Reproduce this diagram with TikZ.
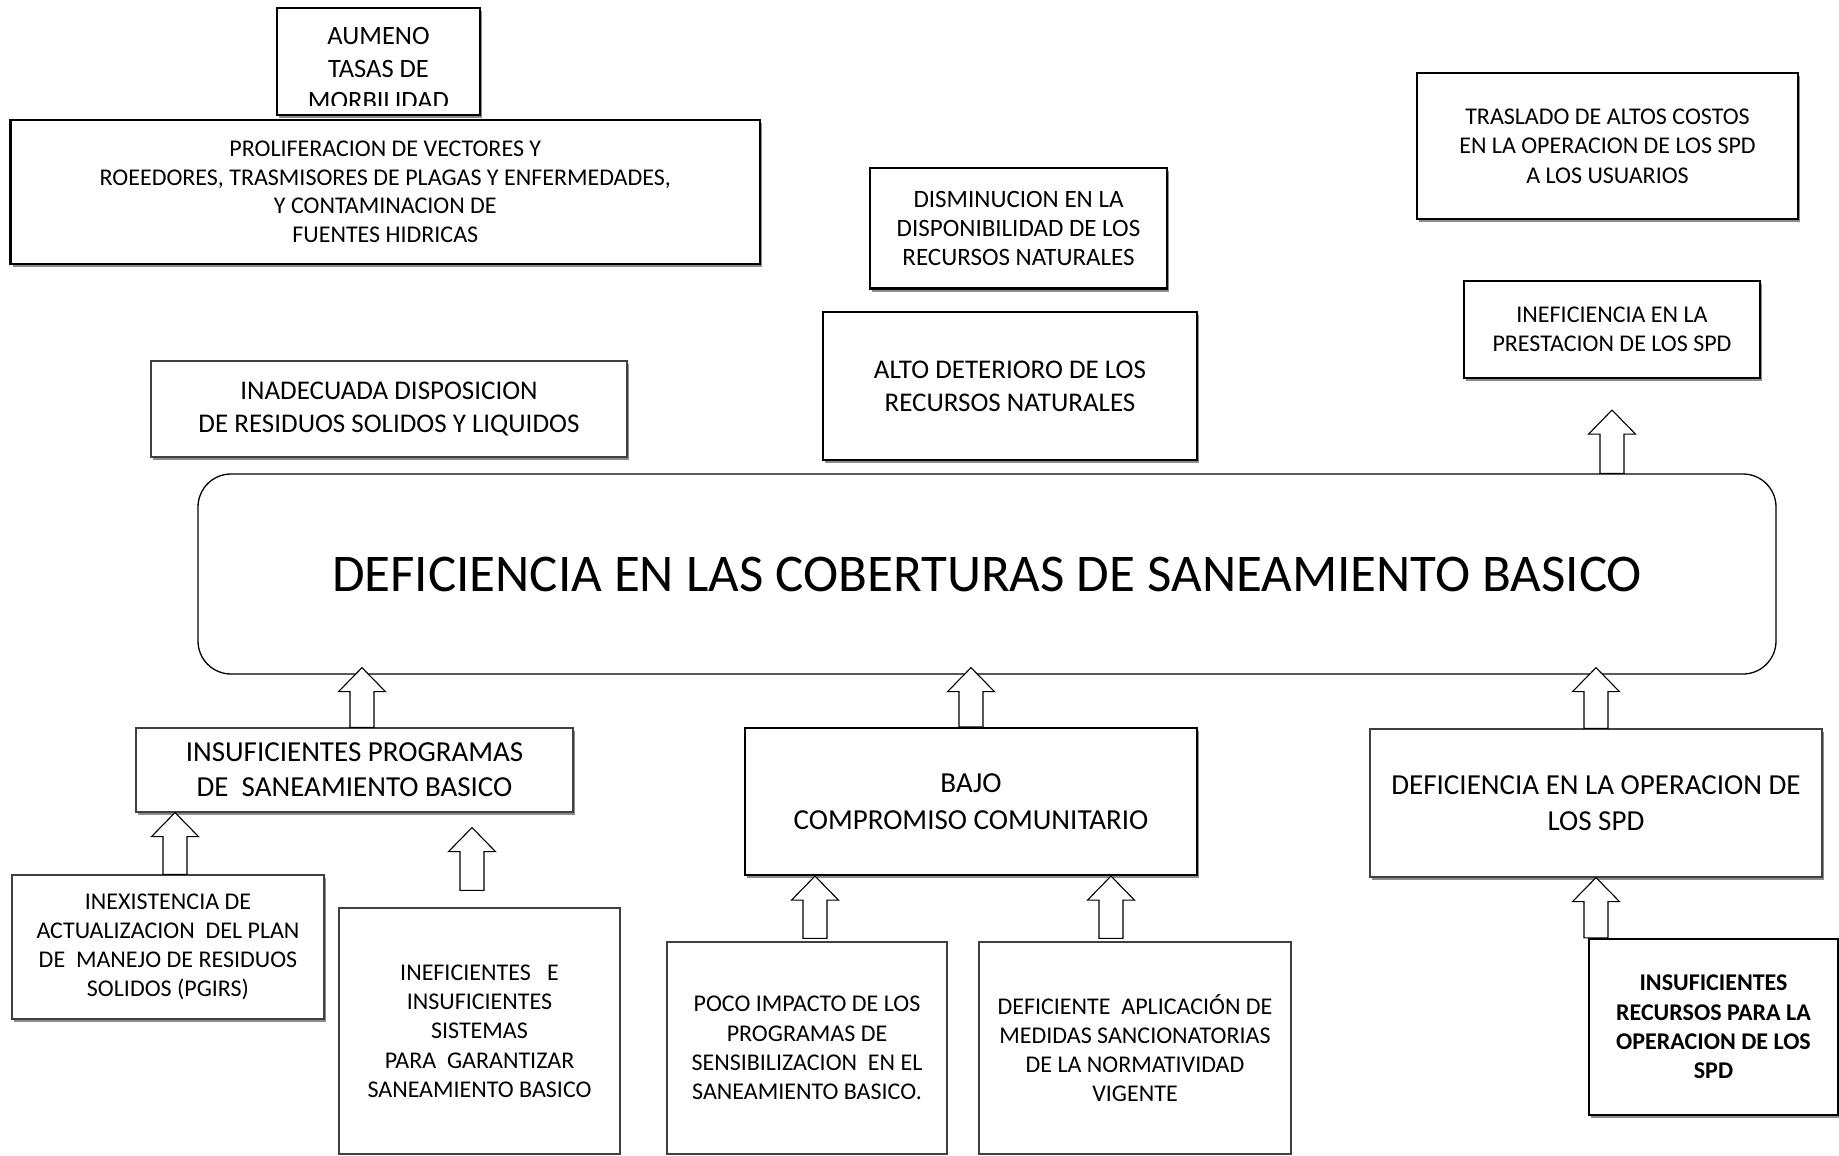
\documentclass[tikz,border=0pt]{standalone}
\usepackage{fontspec}
\setmainfont{Carlito}
\usetikzlibrary{calc,shadows}
\tikzset{
  thickbox/.style={draw=black, line width=2.2pt, fill=white, align=center, inner sep=0pt},
  thinbox/.style={draw=black!75, line width=1.2pt, fill=white, align=center, inner sep=0pt},
  shadowed/.style={drop shadow={shadow xshift=2pt, shadow yshift=-3pt, fill=black!45, opacity=1}},
  hollowarrow/.style={draw=black, line width=1.1pt, fill=white, line join=miter},
  txtsmall/.style={font=\fontsize{24}{29.3}\selectfont},
  txtmid/.style={font=\fontsize{27}{32.8}\selectfont},
  txtbig/.style={font=\fontsize{29}{36.4}\selectfont},
}
\newcommand{\blockup}[2]{%
  \draw[hollowarrow] let \p1=(#1), \p2=(#2) in
    (\x1-12pt,\y1) -- (\x1-12pt,\y2-24pt) -- (\x1-23.5pt,\y2-24pt) -- (\x1,\y2)
    -- (\x1+23.5pt,\y2-24pt) -- (\x1+12pt,\y2-24pt) -- (\x1+12pt,\y1) -- cycle;}

\begin{document}
\begin{tikzpicture}[x=1pt, y=-1pt]
  \useasboundingbox (0,0) rectangle (1839,1156);

  \node[thickbox, shadowed, minimum width=203pt, minimum height=107pt] (aum) at (378.5,61.5) {};
  \begin{scope}
    \clip (aum.north west) rectangle ([yshift=11pt]aum.south east);
    \node[align=center, font=\fontsize{26.5}{32.5}\selectfont] (aumtxt) at ([yshift=-7pt]aum.center) {AUMENO\\TASAS DE\\MORBILIDAD};
  \end{scope}
  \node[thickbox, shadowed, font=\fontsize{24}{28.6}\selectfont, minimum width=749.5pt, minimum height=144.4pt] (prol) at (385.3,191.8) {PROLIFERACION DE VECTORES Y\\ROEEDORES, TRASMISORES DE PLAGAS Y ENFERMEDADES,\\Y CONTAMINACION DE\\FUENTES HIDRICAS};
  \node[thickbox, shadowed, font=\fontsize{25}{29.3}\selectfont, minimum width=297pt, minimum height=120.5pt] (dism) at (1018.5,228.3) {DISMINUCION EN LA\\DISPONIBILIDAD DE LOS\\RECURSOS NATURALES};
  \node[thickbox, shadowed, txtmid, minimum width=374pt, minimum height=148pt] (alto) at (1010,386) {ALTO DETERIORO DE LOS\\RECURSOS NATURALES};
  \node[thinbox, shadowed, txtmid, minimum width=476pt, minimum height=96pt] (inad) at (389,409) {INADECUADA DISPOSICION\\DE RESIDUOS SOLIDOS Y LIQUIDOS};
  \node[thickbox, shadowed, txtsmall, minimum width=381pt, minimum height=146pt] (tras) at (1607.5,146) {TRASLADO DE ALTOS COSTOS\\EN LA OPERACION DE LOS SPD\\A LOS USUARIOS};
  \node[thickbox, shadowed, txtsmall, minimum width=296pt, minimum height=97pt] (inef) at (1612,329.5) {INEFICIENCIA EN LA\\PRESTACION DE LOS SPD};

  \node[draw, line width=1.3pt, rounded corners=33pt, fill=white, inner sep=0pt, minimum width=1578pt, minimum height=200pt, font=\fontsize{53}{64}\selectfont] (main) at (987,574) {DEFICIENCIA EN LAS COBERTURAS DE SANEAMIENTO BASICO};

  \node[thinbox, shadowed, font=\fontsize{29}{35}\selectfont, minimum width=437pt, minimum height=84pt] (prog) at (354.5,770) {INSUFICIENTES PROGRAMAS\\DE\ \ SANEAMIENTO BASICO};
  \node[thickbox, shadowed, txtbig, minimum width=452pt, minimum height=147pt] (bajo) at (971,801.5) {BAJO\\COMPROMISO COMUNITARIO};
  \node[thinbox, shadowed, txtbig, minimum width=452pt, minimum height=148pt] (oper) at (1596,803) {DEFICIENCIA EN LA OPERACION DE\\LOS SPD};

  \node[thinbox, shadowed, font=\fontsize{24}{29}\selectfont, minimum width=312pt, minimum height=144pt] (inex) at (168,947) {INEXISTENCIA DE\\ACTUALIZACION\ \ DEL PLAN\\DE\ \ MANEJO DE RESIDUOS\\SOLIDOS (PGIRS)};
  \node[thinbox, txtsmall, minimum width=281pt, minimum height=246pt] (sist) at (479.5,1031) {INEFICIENTES\ \ \ E\\INSUFICIENTES\\SISTEMAS\\PARA\ \ GARANTIZAR\\SANEAMIENTO BASICO};
  \node[thinbox, txtsmall, minimum width=280pt, minimum height=212pt] (poco) at (807,1048) {POCO IMPACTO DE LOS\\PROGRAMAS DE\\SENSIBILIZACION\ \ EN EL\\SANEAMIENTO BASICO.};
  \node[thinbox, txtsmall, minimum width=312pt, minimum height=212pt] (dapl) at (1135,1048) {DEFICIENTE\ \ APLICACIÓN DE\\MEDIDAS SANCIONATORIAS\\DE LA NORMATIVIDAD\\VIGENTE};
  \node[thickbox, shadowed, font=\fontsize{24}{29.3}\selectfont\bfseries, minimum width=249pt, minimum height=176pt] (recu) at (1713.5,1027) {INSUFICIENTES\\RECURSOS PARA LA\\OPERACION DE LOS\\SPD};

  \blockup{inef.south |- main.north}{[yshift=-31pt]inef.south}
  \blockup{[xshift=7.5pt]prog.north}{[yshift=7pt]main.south}
  \blockup{bajo.north}{[yshift=7pt]main.south}
  \blockup{oper.north}{[yshift=7pt]main.south}
  \blockup{[xshift=7pt]inex.north}{prog.south}
  \blockup{[xshift=-7.5pt,yshift=17pt]sist.north}{[yshift=-15pt]prog.south}
  \blockup{[xshift=8pt,yshift=3pt]poco.north}{bajo.south}
  \blockup{[xshift=-24pt,yshift=3pt]dapl.north}{bajo.south}
  \blockup{oper.south |- recu.north}{oper.south}
\end{tikzpicture}
\end{document}
